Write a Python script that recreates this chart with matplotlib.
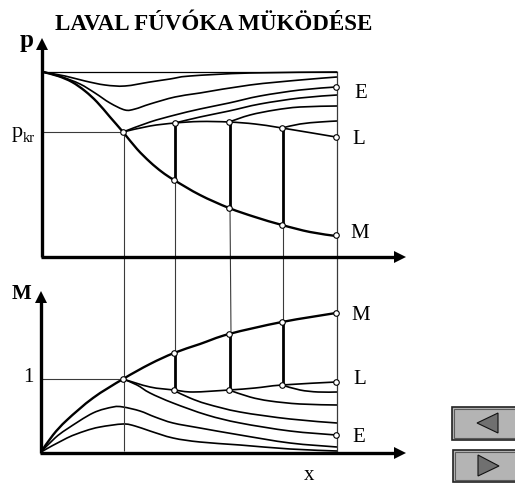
import matplotlib

matplotlib.use("Agg")
import matplotlib.pyplot as plt
from matplotlib.patches import PathPatch, Polygon, Rectangle
from matplotlib.path import Path

# the schematic has no numeric scale, so values are in picture units (515 x 483)
P_FLAT = [(43, 72), (337, 72)]
P_MAIN = [(43, 72), (58, 76), (72, 82), (85, 91), (97, 102), (110, 117), (123, 132), (137, 149),
          (150, 162), (162, 172), (174, 180), (200, 195), (229, 208), (255, 217), (282, 225), (310, 232), (336, 236)]
P_SUB = [
    [(43, 72), (65, 76), (85, 81), (105, 85), (125, 86), (150, 82), (170, 79), (190, 76), (250, 73), (337, 72)],
    [(43, 72), (62, 77), (80, 84), (95, 93), (110, 103), (125, 110), (135, 109), (150, 104), (175, 97),
     (200, 93), (250, 85), (300, 80), (337, 77)],
    [(123, 132), (150, 122), (175, 115), (200, 109), (229, 103), (260, 96), (300, 90), (336, 87)],
    [(175, 123), (200, 117), (229, 111), (260, 104), (300, 98), (337, 95)],
    [(229, 122), (250, 115), (275, 110), (300, 107), (337, 106)],
    [(282, 128), (300, 124), (320, 122), (337, 121)],
]
P_LAVAL = [(123, 132), (150, 126), (175, 123), (200, 121.5), (229, 122), (255, 124), (282, 128), (336, 137)]

M_MAIN = [(41, 452), (53, 435), (67, 420), (93, 398), (123, 379), (150, 364), (174, 353),
          (200, 344), (229, 334), (282, 322), (336, 313)]
M_LAVAL = [(123, 379), (150, 387), (174, 390), (193, 392), (229, 390), (255, 388), (282, 385), (336, 382)]
M_SUB = [
    [(282, 385), (300, 390), (318, 392), (337, 392)],
    [(229, 390), (250, 397), (270, 401), (300, 404), (337, 405)],
    [(175, 391), (190, 398), (207, 404), (240, 412), (290, 419), (337, 423)],
    [(123, 379), (137, 385), (150, 393), (173, 403), (207, 415), (240, 423), (290, 431), (336, 435)],
    [(41, 452), (55, 438), (67, 429), (93, 413), (113, 407), (123, 407), (140, 411), (155, 417), (173, 423),
     (200, 428), (240, 435), (290, 443), (337, 447)],
    [(41, 452), (67, 438), (85, 431), (100, 427), (123, 424), (135, 426), (150, 431), (173, 438), (200, 442),
     (240, 445), (290, 449), (337, 451)],
]

SHOCK_X = [175, 230, 283]
P_SHOCK_TOP = [123, 122, 128]
P_SHOCK_BOTTOM = [180, 208, 225]
M_SHOCK_TOP = [353, 334, 322]
M_SHOCK_BOTTOM = [390, 390, 385]

P_NODES = [(123, 132), (175, 123), (174, 180), (229, 122), (229, 208), (282, 128), (282, 225),
           (336, 87), (336, 137), (336, 235)]
M_NODES = [(123, 379), (174, 353), (174, 390), (229, 334), (229, 390), (282, 322), (282, 385),
           (336, 313), (336, 382), (336, 435)]

P_END_LABELS = [("E", 361, 94), ("L", 359, 140), ("M", 360, 234)]
M_END_LABELS = [("M", 361, 316), ("L", 360, 380), ("E", 359, 438)]

INK = "#000000"
THIN = "#3a3a3a"
PANEL = "#b4b4b4"


def draw(ax, points, lw=1.2, color=INK):
    ax.plot([p[0] for p in points], [p[1] for p in points], color=color, lw=lw,
            solid_capstyle="butt", solid_joinstyle="round")


def curve(ax, points, lw=1.2):
    # smooth stroke through the read points, as bezier segments
    verts = [points[0]]
    for i in range(len(points) - 1):
        p0 = points[max(i - 1, 0)]
        p1 = points[i]
        p2 = points[i + 1]
        p3 = points[min(i + 2, len(points) - 1)]
        verts.append((p1[0] + (p2[0] - p0[0]) / 6, p1[1] + (p2[1] - p0[1]) / 6))
        verts.append((p2[0] - (p3[0] - p1[0]) / 6, p2[1] - (p3[1] - p1[1]) / 6))
        verts.append(p2)
    codes = [Path.MOVETO] + [Path.CURVE4] * (len(verts) - 1)
    ax.add_patch(PathPatch(Path(verts, codes), facecolor="none", edgecolor=INK, lw=lw, capstyle="butt"))


def arrow(ax, tip, base):
    # filled head, pointing along base -> tip
    if tip[0] == base[0]:
        head = [tip, (base[0] - 6, base[1]), (base[0] + 6, base[1])]
    else:
        head = [tip, (base[0], base[1] - 6), (base[0], base[1] + 6)]
    ax.add_patch(Polygon(head, closed=True, color=INK, lw=0, zorder=4))


def button(ax, x, y, w, h, triangle):
    ax.add_patch(Rectangle((x, y), w, h, facecolor=PANEL, edgecolor="#222222", lw=1.2))
    ax.add_patch(Rectangle((x + 2, y + 2), w - 4, h - 4, facecolor=PANEL, edgecolor="#5a5a5a", lw=0.8))
    ax.add_patch(Polygon(triangle, closed=True, facecolor="#707070", edgecolor="#111111", lw=0.8))


plt.rcParams["font.family"] = "Liberation Serif"
fig = plt.figure(figsize=(5.15, 4.83), dpi=100, facecolor="white")
ax = fig.add_axes([0, 0, 1, 1])
ax.set_xlim(0, 515)
ax.set_ylim(483, 0)
ax.axis("off")

# guide lines
draw(ax, [(43, 132), (123, 132)], 0.8, THIN)
draw(ax, [(42, 379), (123, 379)], 0.8, THIN)
draw(ax, [(124, 132), (124, 451)], 0.8, THIN)
draw(ax, [(175, 180), (175, 353)], 0.8, THIN)
draw(ax, [(230, 208), (231, 334)], 0.8, THIN)
draw(ax, [(283, 225), (283, 322)], 0.8, THIN)
draw(ax, [(337, 71), (337, 452)], 0.9, THIN)

# pressure panel
draw(ax, P_FLAT, 0.9)
for points in P_SUB:
    curve(ax, points, 1.2)
curve(ax, P_LAVAL, 1.2)
curve(ax, P_MAIN, 1.7)

# Mach panel
for points in M_SUB:
    curve(ax, points, 1.2)
curve(ax, M_LAVAL, 1.2)
curve(ax, M_MAIN, 1.7)

# normal shocks
for x, top, bottom, mtop, mbottom in zip(SHOCK_X, P_SHOCK_TOP, P_SHOCK_BOTTOM, M_SHOCK_TOP, M_SHOCK_BOTTOM):
    draw(ax, [(x, top), (x, bottom)], 2.0)
    draw(ax, [(x, mtop), (x, mbottom)], 2.0)

# axes
draw(ax, [(42, 257), (42, 48)], 2.4)
draw(ax, [(41, 257), (394, 257)], 2.4)
draw(ax, [(41, 453), (41, 302)], 2.4)
draw(ax, [(40, 453), (394, 453)], 2.4)
arrow(ax, (42, 38), (42, 50))
arrow(ax, (406, 257), (394, 257))
arrow(ax, (41, 291), (41, 303))
arrow(ax, (406, 453), (394, 453))

for nodes in (P_NODES, M_NODES):
    ax.plot([n[0] for n in nodes], [n[1] for n in nodes], ls="none", marker="o", ms=4.0,
            mfc="white", mec=INK, mew=0.8, zorder=5)

ax.text(213.5, 25, "LAVAL FÚVÓKA MÜKÖDÉSE", ha="center", va="center", fontsize=16.6, fontweight="bold")
ax.text(27, 41, "p", ha="center", va="center", fontsize=18, fontweight="bold")
ax.text(22, 294, "M", ha="center", va="center", fontsize=15, fontweight="bold")
ax.text(12, 133, "p", ha="left", va="center", fontsize=16)
ax.text(23, 139, "kr", ha="left", va="center", fontsize=10.5)
ax.text(28, 378, "1", ha="center", va="center", fontsize=15)
ax.text(309, 475, "x", ha="center", va="center", fontsize=15)
for label, x, y in P_END_LABELS + M_END_LABELS:
    ax.text(x, y, label, ha="center", va="center", fontsize=15)

button(ax, 452, 407, 66, 32.5, [(477, 423), (498, 413), (498, 433)])
button(ax, 453, 450, 65, 32, [(478, 455), (478, 476), (499, 466)])

fig.savefig("out.png", dpi=100, facecolor="white")
